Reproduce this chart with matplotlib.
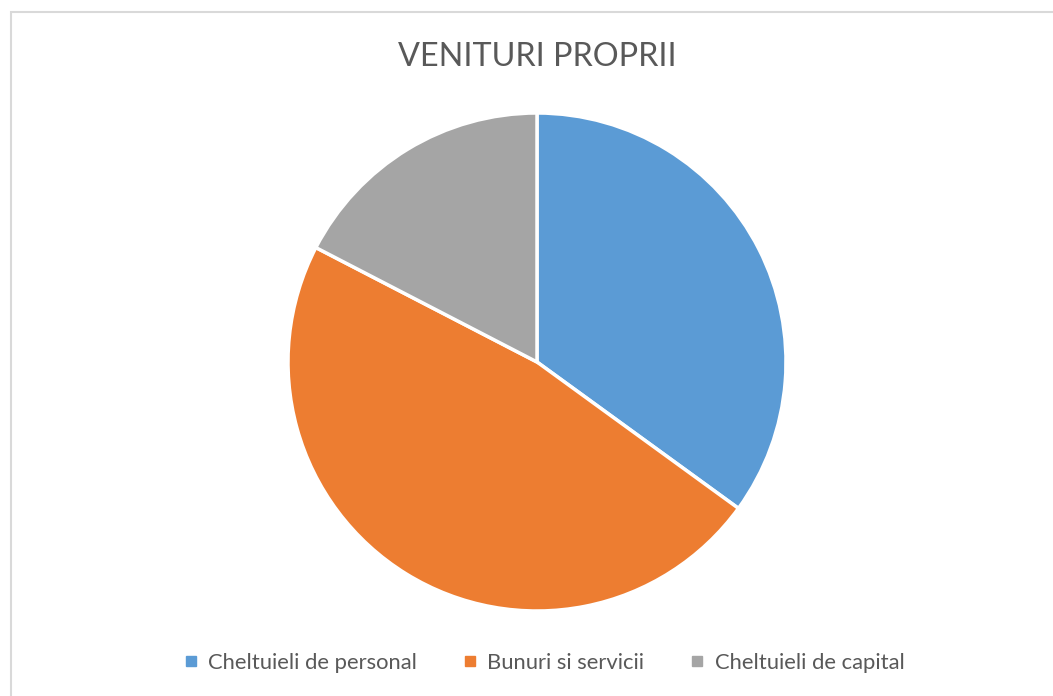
import matplotlib.pyplot as plt
from matplotlib.patches import Rectangle
from matplotlib.lines import Line2D

labels = ["Cheltuieli de personal", "Bunuri si servicii", "Cheltuieli de capital"]
shares = [35.0, 47.6, 17.4]
colors = ["#5b9bd5", "#ed7d31", "#a5a5a5"]

W, H = 1053, 696
fig = plt.figure(figsize=(W / 100, H / 100), dpi=100)
fig.patch.set_facecolor("white")

# light chart frame
fig.patches.append(Rectangle((11 / W, -0.05), 1.1, 1 - 12 / H + 0.05,
                             transform=fig.transFigure, fill=False,
                             edgecolor="#d9d9d9", linewidth=1.5))

cx, cy, r = 537, 362, 249
ax = fig.add_axes([(cx - r) / W, (H - cy - r) / H, 2 * r / W, 2 * r / H])
ax.pie(shares, colors=colors, startangle=90, counterclock=False, radius=1,
       wedgeprops=dict(edgecolor="white", linewidth=2.5))
ax.set_xlim(-1, 1)
ax.set_ylim(-1, 1)
ax.set_aspect("auto")
ax.axis("off")

fig.text(cx / W, 1 - 57 / H, "VENITURI PROPRII", ha="center", va="center",
         fontsize=23.3, color="#595959", family="Lato")

handles = [Line2D([], [], marker="s", linestyle="", markersize=7.5,
                  markerfacecolor=c, markeredgecolor=c) for c in colors]
fig.legend(handles, labels, loc="center", bbox_to_anchor=(542 / W, 1 - 663 / H),
           ncol=3, frameon=False, handletextpad=0.3, columnspacing=1.9,
           handlelength=1.0, prop={"family": "Lato", "size": 15.8},
           labelcolor="#595959")

fig.savefig("out.png", dpi=100)
